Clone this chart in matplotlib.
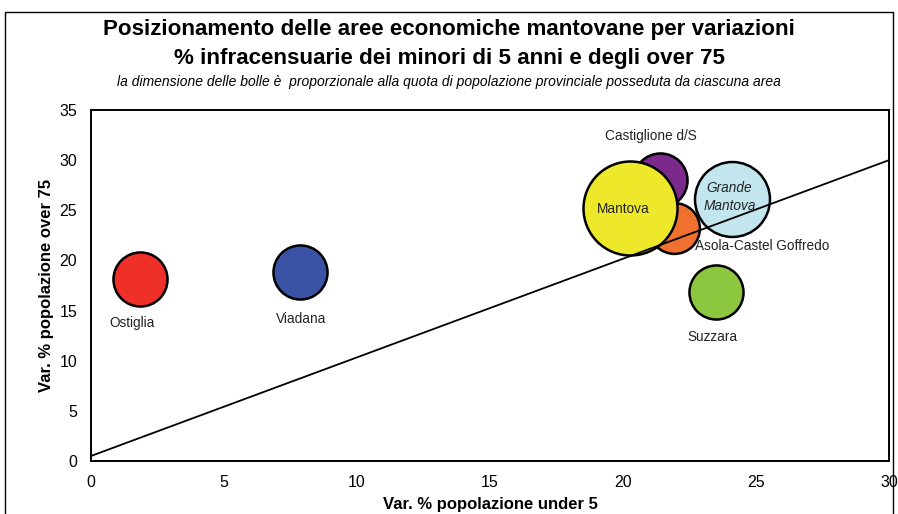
import matplotlib
matplotlib.use("Agg")
import matplotlib.pyplot as plt
from matplotlib.patches import Rectangle

plt.rcParams['font.family'] = ['Liberation Sans', 'DejaVu Sans']

# aree economiche: variazione % under 5 (x), over 75 (y), quota popolazione provinciale
aree = ["Ostiglia", "Viadana", "Castiglione d/S", "Asola-Castel Goffredo",
        "Mantova", "Grande Mantova", "Suzzara"]
var_under5 = [1.85, 7.85, 21.4, 21.9, 20.25, 24.1, 23.5]
var_over75 = [18.1, 18.8, 28.0, 23.2, 25.2, 26.1, 16.85]
quota_pop = [10.2, 10.2, 10.2, 9.0, 30.8, 19.6, 10.2]
colori = ["#EE3029", "#3A53A4", "#7B2A8C", "#F07030", "#EDE82A", "#C3E5EE", "#8DC63F"]

# linea di riferimento
linea_x = [0, 30]
linea_y = [0.5, 30]

fig = plt.figure(figsize=(8.98, 5.14), dpi=100)
ax = fig.add_axes([0.1013, 0.1031, 0.8887, 0.6829])

# bolle: area proporzionale alla quota
max_diam = 94 * 0.72  # diametro in punti della bolla più grande
sizes = [q / max(quota_pop) * max_diam ** 2 for q in quota_pop]
for i in range(len(aree)):
    ax.scatter(var_under5[i], var_over75[i], s=sizes[i], c=colori[i],
               edgecolors="black", linewidths=1.8, zorder=2 + i)

ax.plot(linea_x, linea_y, color="black", lw=1.3, zorder=20)

# etichette
lab = dict(fontsize=9.8, color="#222222", zorder=30)
ax.text(1.55, 13.8, "Ostiglia", ha="center", va="center", **lab)
ax.text(7.9, 14.2, "Viadana", ha="center", va="center", **lab)
ax.text(21.05, 32.4, "Castiglione d/S", ha="center", va="center", **lab)
ax.text(20.0, 25.1, "Mantova", ha="center", va="center", **lab)
ax.text(24.0, 26.3, "Grande\nMantova", ha="center", va="center",
        style="italic", linespacing=1.4, **lab)
ax.text(22.7, 21.4, "Asola-Castel Goffredo", ha="left", va="center", **lab)
ax.text(23.35, 12.4, "Suzzara", ha="center", va="center", **lab)

ax.set_xlim(0, 30)
ax.set_ylim(0, 35)
ax.set_xticks(range(0, 31, 5))
ax.set_yticks(range(0, 36, 5))
ax.tick_params(length=0, labelsize=11.5, pad=10)
for sp in ax.spines.values():
    sp.set_linewidth(1.4)

ax.set_xlabel("Var. % popolazione under 5", fontsize=12, fontweight="bold", labelpad=5)
ax.set_ylabel("Var. % popolazione over 75", fontsize=12, fontweight="bold", labelpad=4)

fig.text(0.5, 0.942, "Posizionamento delle aree economiche mantovane per variazioni",
         ha="center", va="center", fontsize=16.1, fontweight="bold")
fig.text(0.5, 0.886, "% infracensuarie dei minori di 5 anni e degli over 75",
         ha="center", va="center", fontsize=16.1, fontweight="bold")
fig.text(0.5, 0.84, "la dimensione delle bolle è  proporzionale alla quota di popolazione "
         "provinciale posseduta da ciascuna area",
         ha="center", va="center", fontsize=10, style="italic")

# cornice esterna
fig.patches.append(Rectangle((5 / 898, -0.05), 888 / 898, 1.05 - 12 / 514,
                             transform=fig.transFigure, fill=False,
                             edgecolor="black", lw=1.0))

fig.savefig("out.png", dpi=100)
